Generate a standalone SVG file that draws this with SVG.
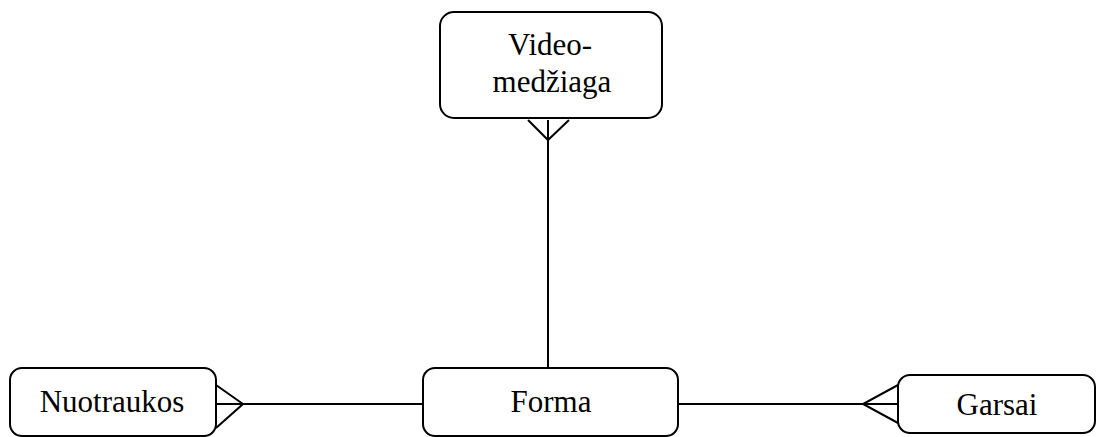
<svg xmlns="http://www.w3.org/2000/svg" width="1096" height="437" viewBox="0 0 1096 437">
<style>
.box{fill:#fff;stroke:#000;stroke-width:2}
.ln{fill:none;stroke:#000;stroke-width:2}
text{font-family:"Liberation Serif","Times New Roman",serif;font-size:31px;fill:#000;text-anchor:middle}
</style>
<rect width="1096" height="437" fill="#fff"/>
<g id="connectors">
<path class="ln" d="M548,120 V368"/>
<path class="ln" d="M528,120 L548,140 L569,120"/>
<path class="ln" d="M216,404 H423"/>
<path class="ln" d="M216,385 L243,404 L216,428"/>
<path class="ln" d="M678,404 H898"/>
<path class="ln" d="M898,385 L863,404 L898,423"/>
</g>
<g id="video">
<rect class="box" x="440" y="12" width="222" height="106" rx="14"/>
<text x="550" y="55">Video-</text>
<text x="552" y="92">medžiaga</text>
</g>
<g id="nuotraukos">
<rect class="box" x="10" y="368" width="206" height="68" rx="12"/>
<text x="112" y="412">Nuotraukos</text>
</g>
<g id="forma">
<rect class="box" x="423" y="368" width="255" height="68" rx="12"/>
<text x="551" y="412">Forma</text>
</g>
<g id="garsai">
<rect class="box" x="898" y="375" width="197" height="58" rx="12"/>
<text x="997" y="415">Garsai</text>
</g>
</svg>
